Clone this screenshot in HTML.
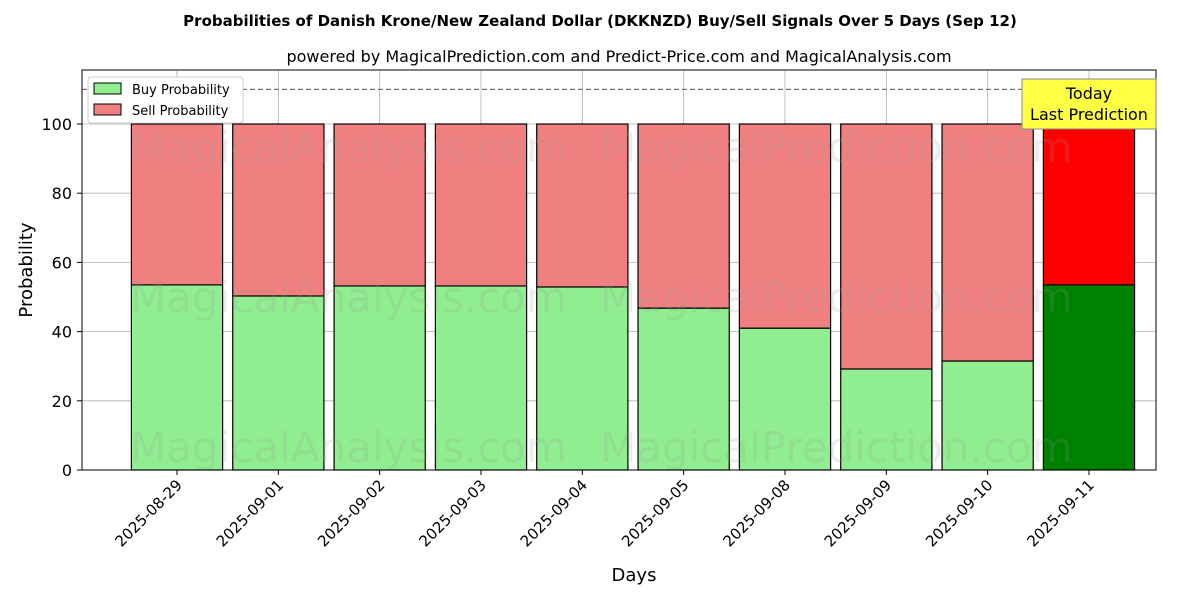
<!DOCTYPE html>
<html><head><meta charset="utf-8">
<style>
body{margin:0;background:#fff;font-family:"Liberation Sans","DejaVu Sans",sans-serif;}
svg text{font-family:"DejaVu Sans","Liberation Sans",sans-serif;}
</style></head>
<body>
<svg id="chart" width="1200" height="600" xmlns="http://www.w3.org/2000/svg">
<text x="600" y="26" text-anchor="middle" font-size="15" font-weight="bold">Probabilities of Danish Krone/New Zealand Dollar (DKKNZD) Buy/Sell Signals Over 5 Days (Sep 12)</text>
<text x="619" y="62" text-anchor="middle" font-size="16">powered by MagicalPrediction.com and Predict-Price.com and MagicalAnalysis.com</text>
<g id="grid"></g>
<g id="bars"></g>
<g id="wm" fill="#999" opacity="0.18" font-size="42">
<text x="130" y="162">MagicalAnalysis.com</text>
<text x="600" y="162">MagicalPrediction.com</text>
<text x="130" y="312">MagicalAnalysis.com</text>
<text x="600" y="312">MagicalPrediction.com</text>
<text x="130" y="462">MagicalAnalysis.com</text>
<text x="600" y="462">MagicalPrediction.com</text>
</g>
<line x1="82" x2="1156" y1="89.4" y2="89.4" stroke="#777" stroke-dasharray="5,3" stroke-width="1.2"/>
<rect x="82" y="70" width="1074" height="400" fill="none" stroke="#000" stroke-width="1"/>
<g id="axes"></g>
<text x="634" y="581" text-anchor="middle" font-size="18">Days</text>
<text x="32" y="270" text-anchor="middle" font-size="18" transform="rotate(-90 32 270)">Probability</text>
<g>
<rect x="88" y="77" width="155" height="46" fill="#fff" stroke="#ccc" rx="3"/>
<rect x="94" y="83" width="27" height="11" fill="#90ee90" stroke="#000"/>
<text x="132" y="94" font-size="13">Buy Probability</text>
<rect x="94" y="104" width="27" height="11" fill="#f08080" stroke="#000"/>
<text x="132" y="115" font-size="13">Sell Probability</text>
</g>
<g>
<rect x="1022" y="79" width="134" height="50" fill="#ffff44" stroke="#888"/>
<text x="1089" y="99" text-anchor="middle" font-size="16">Today</text>
<text x="1089" y="120" text-anchor="middle" font-size="16">Last Prediction</text>
</g>
</svg>
<script>
const categories=["2025-08-29","2025-09-01","2025-09-02","2025-09-03","2025-09-04","2025-09-05","2025-09-08","2025-09-09","2025-09-10","2025-09-11"];
const buyValues=[53.5,50.3,53.2,53.2,52.9,46.8,41.0,29.2,31.5,53.5];
const sellValues=[46.5,49.7,46.8,46.8,47.1,53.2,59.0,70.8,68.5,46.5];
const yTicks=[0,20,40,60,80,100];
const NS="http://www.w3.org/2000/svg";
const xs=i=>177+i*101.33;
const ys=v=>470-v*3.46;
const bw=91.2;
function mk(tag,attrs,parent){const e=document.createElementNS(NS,tag);for(const k in attrs)e.setAttribute(k,attrs[k]);parent.appendChild(e);return e;}
const grid=document.getElementById('grid'),bars=document.getElementById('bars'),axes=document.getElementById('axes');
yTicks.forEach(t=>{
  const l=mk('line',{x1:82,x2:1156,y1:ys(t),y2:ys(t),stroke:'#b0b0b0','stroke-width':0.8},grid);
  
  
  mk('line',{x1:77,x2:82,y1:ys(t),y2:ys(t),stroke:'#000'},axes);
  const tx=mk('text',{x:72,y:ys(t)+6,'text-anchor':'end','font-size':16},axes);
  tx.textContent=t;
  
  
});
categories.forEach((c,i)=>{
  const x=xs(i);
  const g=mk('line',{x1:x,x2:x,y1:70,y2:470,stroke:'#b0b0b0','stroke-width':0.8},grid);
  
  
  const last=i===categories.length-1;
  const b=mk('rect',{x:x-bw/2,y:ys(buyValues[i]),width:bw,height:ys(0)-ys(buyValues[i]),fill:last?'#008000':'#90ee90',stroke:'#000','stroke-width':1.2},bars);
  
  
  const s=mk('rect',{x:x-bw/2,y:ys(buyValues[i]+sellValues[i]),width:bw,height:ys(buyValues[i])-ys(buyValues[i]+sellValues[i]),fill:last?'#ff0000':'#f08080',stroke:'#000','stroke-width':1.2},bars);
  
  
  mk('line',{x1:x,x2:x,y1:470,y2:475,stroke:'#000'},axes);
  const t=mk('text',{x:x+6,y:486,'text-anchor':'end','font-size':15,transform:`rotate(-45 ${x+6} 486)`},axes);
  t.textContent=c;
  
  
});
</script>
</body></html>
